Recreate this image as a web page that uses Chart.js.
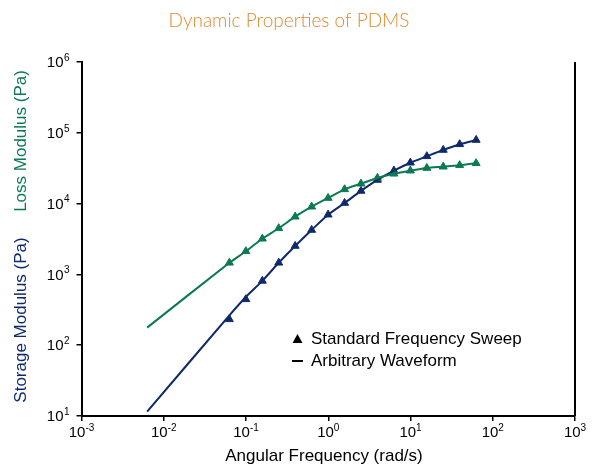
<!DOCTYPE html>
<html>
<head>
<meta charset="utf-8">
<script src="https://cdn.jsdelivr.net/npm/chart.js@4/dist/chart.umd.min.js"></script>
<style>
  body { margin: 0; background: #fff; }
  #wrap { width: 598px; height: 466px; }
</style>
</head>
<body>
<div id="wrap"><canvas id="pdmsChart"></canvas></div>
<script>
// angular frequency of the standard sweep points (rad/s)
const sweepFreq = [0.0628, 0.0996, 0.158, 0.250, 0.396, 0.628, 0.996, 1.58, 2.50, 3.96, 6.28, 9.96, 15.8, 25.0, 39.6, 62.8];
const storageSweep = [232, 445, 810, 1460, 2520, 4240, 6970, 10200, 15100, 21600, 29200, 37800, 46600, 57200, 68900, 79100];
const lossSweep = [1460, 2120, 3190, 4480, 6530, 9040, 12000, 15900, 19100, 23000, 26400, 29200, 31800, 33200, 34800, 37100];

// arbitrary waveform curves
const waveFreq = [0.00628, 0.0628, 0.0996, 0.158, 0.250, 0.396, 0.628, 0.996, 1.58, 2.50, 3.96, 6.28, 9.96, 15.8, 25.0, 39.6, 62.8];
const storageWave = [11.5, 264, 480, 810, 1460, 2520, 4240, 6970, 10200, 15100, 21600, 29200, 37800, 46600, 57200, 68900, 79100];
const lossWave = [177, 1460, 2120, 3190, 4480, 6530, 9040, 12000, 15900, 19100, 23000, 26400, 29200, 31800, 33200, 34800, 37100];

// tick exponents
const xExps = [-3, -2, -1, 0, 1, 2, 3];
const yExps = [1, 2, 3, 4, 5, 6];

const green = '#0b7a52';
const navy = '#0f2a6b';

function pairs(xs, ys) {
  let out = [];
  for (let i = 0; i < xs.length; i++) out.push({x: xs[i], y: ys[i]});
  return out;
}

const textPlugin = {
  id: 'textPlugin',
  afterDraw(chart) {
    const {ctx, chartArea, scales} = chart;
    ctx.save();
    // right frame line
    ctx.strokeStyle = '#000';
    ctx.lineWidth = 2;
    ctx.beginPath();
    ctx.moveTo(chartArea.right, chartArea.top);
    ctx.lineTo(chartArea.right, chartArea.bottom);
    ctx.stroke();

    // title
    ctx.fillStyle = '#e0892f';
    ctx.font = '300 19px Lato';
    ctx.textAlign = 'center';
    ctx.textBaseline = 'middle';
    ctx.fillText('Dynamic Properties of PDMS', 289, 21);

    // y tick labels
    ctx.fillStyle = '#000';
    yExps.forEach(function(e) {
      const py = scales.y.getPixelForValue(Math.pow(10, e));
      ctx.font = '15px "Liberation Sans"';
      ctx.textAlign = 'right';
      ctx.textBaseline = 'middle';
      ctx.fillText('10', 63.5, py + 1);
      ctx.font = '10px "Liberation Sans"';
      ctx.textAlign = 'left';
      ctx.fillText(String(e), 64, py - 4);
    });

    // x tick labels, whole "10^e" centred on the tick
    ctx.textAlign = 'left';
    ctx.textBaseline = 'middle';
    xExps.forEach(function(e) {
      const px = scales.x.getPixelForValue(Math.pow(10, e));
      const expText = e < 0 ? '-' + Math.abs(e) : String(e);
      ctx.font = '15px "Liberation Sans"';
      const w10 = ctx.measureText('10').width;
      ctx.font = '10px "Liberation Sans"';
      const wExp = ctx.measureText(expText).width;
      const start = px - (w10 + wExp) / 2;
      ctx.font = '15px "Liberation Sans"';
      ctx.fillText('10', start, 433);
      ctx.font = '10px "Liberation Sans"';
      ctx.fillText(expText, start + w10, 428);
    });

    // x axis title
    ctx.font = '17px "Liberation Sans"';
    ctx.textAlign = 'center';
    ctx.fillText('Angular Frequency (rad/s)', 324, 456);

    // y axis title, two colours
    ctx.save();
    ctx.translate(21, 0);
    ctx.rotate(-Math.PI / 2);
    ctx.font = '17px "Liberation Sans"';
    ctx.textAlign = 'center';
    ctx.fillStyle = navy;
    ctx.fillText('Storage Modulus (Pa)', -320, 0);
    ctx.fillStyle = green;
    ctx.fillText('Loss Modulus (Pa)', -141, 0);
    ctx.restore();

    // legend
    ctx.fillStyle = '#000';
    ctx.font = '17px "Liberation Sans"';
    ctx.textAlign = 'left';
    ctx.textBaseline = 'middle';
    ctx.beginPath();
    ctx.moveTo(297.5, 334);
    ctx.lineTo(302.5, 343);
    ctx.lineTo(292.5, 343);
    ctx.closePath();
    ctx.fill();
    ctx.fillText('Standard Frequency Sweep', 311, 339);
    ctx.fillRect(292, 360, 11, 2);
    ctx.fillText('Arbitrary Waveform', 311, 361);
    ctx.restore();
  }
};

document.addEventListener('DOMContentLoaded', function() {
  const ctx = document.getElementById('pdmsChart');

  new Chart(ctx, {
    type: 'line',
    data: {
      datasets: [
        {label: 'Loss waveform', data: pairs(waveFreq, lossWave), borderColor: green, borderWidth: 2, pointRadius: 0, tension: 0.25, fill: false},
        {label: 'Storage waveform', data: pairs(waveFreq, storageWave), borderColor: navy, borderWidth: 2, pointRadius: 0, tension: 0.25, fill: false},
        {label: 'Loss sweep', data: pairs(sweepFreq, lossSweep), showLine: false, pointStyle: 'triangle', pointRadius: 4.6, backgroundColor: green, borderColor: green, borderWidth: 1},
        {label: 'Storage sweep', data: pairs(sweepFreq, storageSweep), showLine: false, pointStyle: 'triangle', pointRadius: 4.6, backgroundColor: navy, borderColor: navy, borderWidth: 1}
      ]
    },
    options: {
      responsive: true,
      maintainAspectRatio: false,
      animation: false,
      layout: {padding: {left: 76.5, right: 23, top: 62, bottom: 45}},
      plugins: {
        legend: {display: false},
        title: {display: false},
        tooltip: {enabled: false}
      },
      scales: {
        x: {
          type: 'logarithmic',
          min: 0.001, max: 1000,
          afterBuildTicks: function(scale) { scale.ticks = xExps.map(e => ({value: Math.pow(10, e)})); },
          ticks: {display: false},
          grid: {display: true, drawOnChartArea: false, drawTicks: true, tickLength: 5, color: '#000', lineWidth: 1.5},
          border: {display: true, color: '#000', width: 2}
        },
        y: {
          type: 'logarithmic',
          min: 10, max: 1000000,
          afterBuildTicks: function(scale) { scale.ticks = yExps.map(e => ({value: Math.pow(10, e)})); },
          ticks: {display: false},
          grid: {display: true, drawOnChartArea: false, drawTicks: true, tickLength: 5, color: '#000', lineWidth: 1.5},
          border: {display: true, color: '#000', width: 2}
        }
      }
    },
    plugins: [textPlugin]
  });
});
</script>
</body>
</html>
